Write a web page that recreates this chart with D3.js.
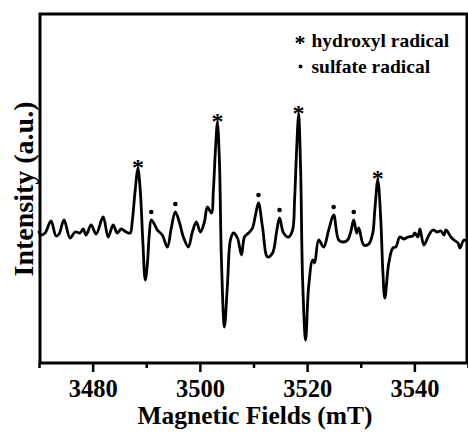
<!DOCTYPE html>
<html>
<head>
<meta charset="utf-8">
<script src="https://cdn.jsdelivr.net/npm/d3@7"></script>
<style>
  html, body { margin: 0; padding: 0; background: #fff; }
  svg { display: block; }
  text { font-family: "Liberation Serif", "Times New Roman", serif; font-weight: bold; fill: #000; }
</style>
</head>
<body>
<script>
// ---- data ----
const field = [3470.00,3470.37,3471.12,3472.24,3473.18,3473.74,3474.67,3475.79,3476.73,3477.66,
  3478.22,3478.79,3479.72,3480.65,3481.96,3482.90,3483.83,3484.58,3485.33,3486.26,
  3487.01,3487.38,3487.94,3488.45,3488.88,3489.35,3489.81,3490.19,3490.56,3490.93,
  3491.50,3492.06,3492.99,3493.93,3494.67,3495.42,3496.17,3496.92,3497.85,3498.60,
  3499.35,3500.09,3500.84,3501.40,3502.15,3502.52,3502.90,3503.27,3503.64,3504.02,
  3504.58,3505.14,3505.70,3506.26,3507.01,3507.76,3508.32,3509.07,3509.81,3510.37,
  3510.93,3511.68,3512.62,3513.55,3514.30,3514.86,3515.61,3516.54,3517.29,3517.66,
  3518.04,3518.41,3518.79,3519.16,3519.72,3520.28,3521.03,3521.40,3522.15,3523.08,
  3524.02,3524.95,3525.89,3526.82,3527.57,3528.13,3528.69,3529.25,3529.63,3530.56,
  3531.50,3532.24,3532.62,3533.18,3533.74,3534.11,3534.49,3535.23,3535.98,3536.54,
  3537.29,3538.04,3538.79,3539.72,3540.09,3540.65,3541.03,3541.78,3542.71,3543.46,
  3544.21,3544.95,3545.51,3545.89,3546.82,3547.38,3548.13,3548.50,3549.25,3550.00];
const intensity = [3,0,2,14,-1,1,15,-3,3,2,
  6,0,10,1,18,-2,10,2,6,3,
  2,13,45,66,45,-5,-45,-30,0,15,
  11,5,0,-12,7,23,13,-2,-12,3,
  13,3,13,28,22,45,85,112,75,-25,
  -92,-50,-5,2,-3,-20,-2,2,7,20,
  32,8,-22,-18,3,17,2,-2,5,35,
  85,120,65,-45,-105,-52,-25,-28,-5,-12,
  5,20,-5,-7,-5,3,15,2,7,-10,
  -9,2,25,55,15,-35,-63,-28,-13,-12,
  -2,-4,-2,-1,2,-2,6,-10,0,5,
  3,4,0,5,-2,-5,-8,-13,-5,-8];
const hydroxylPeaks = [3488.45, 3503.27, 3518.41, 3533.18];
const sulfatePeaks = [3490.93, 3495.42, 3510.93, 3514.86, 3524.95, 3528.69];
const xTicks = [3480, 3500, 3520, 3540];
const xMinorTicks = [3470, 3490, 3510, 3530, 3550];
const legendLabels = ["hydroxyl radical", "sulfate radical"];

// ---- chart ----
const W = 468, H = 433;
const FONT = '"Liberation Serif", "Times New Roman", serif';
const svg = d3.select("body").append("svg").attr("width", W).attr("height", H);
svg.append("rect").attr("width", W).attr("height", H).attr("fill", "#fff");

const x = d3.scaleLinear().domain([3470, 3550]).range([39, 468]);
const y = d3.scaleLinear().domain([-128, 221]).range([363, 14]);

const data = field.map((f, i) => ({ f, v: intensity[i] }));

svg.append("path")
  .datum(data)
  .attr("fill", "none")
  .attr("stroke", "#000")
  .attr("stroke-width", 2.8)
  .attr("stroke-linejoin", "round")
  .attr("stroke-linecap", "round")
  .attr("d", d3.line().x(d => x(d.f)).y(d => y(d.v)).curve(d3.curveCatmullRom.alpha(0.5)));

function peakValue(f) {
  let best = data[0];
  data.forEach(d => { if (Math.abs(d.f - f) < Math.abs(best.f - f)) best = d; });
  return best.v;
}

// markers
svg.selectAll(".ast").data(hydroxylPeaks).enter().append("text")
  .attr("class", "ast")
  .attr("x", d => x(d)).attr("y", d => y(peakValue(d)) + 6)
  .attr("text-anchor", "middle").style("font-size", "24px").text("*");
svg.selectAll(".dot").data(sulfatePeaks).enter().append("circle")
  .attr("class", "dot")
  .attr("cx", d => x(d)).attr("cy", d => y(peakValue(d)) - 8)
  .attr("r", 2.3).attr("fill", "#000");

// frame
svg.append("rect").attr("x", 40).attr("y", 14).attr("width", 427).attr("height", 349)
  .attr("fill", "none").attr("stroke", "#000").attr("stroke-width", 3);

// x axis
const xAxis = d3.axisBottom(x).tickValues(xTicks).tickSize(9).tickFormat(d3.format("d")).tickPadding(8);
const gx = svg.append("g").attr("transform", "translate(0,363)").call(xAxis);
gx.select(".domain").remove();
gx.selectAll(".tick line").attr("stroke", "#000").attr("stroke-width", 2.5);
gx.selectAll(".tick text")
  .style("font-family", FONT).style("font-weight", "bold").style("font-size", "24.5px")
  .style("fill", "#000").attr("dy", "0.71em");
const xMinor = d3.axisBottom(x).tickValues(xMinorTicks).tickSize(5).tickFormat("");
const gxm = svg.append("g").attr("transform", "translate(0,363)").call(xMinor);
gxm.select(".domain").remove();
gxm.selectAll(".tick line").attr("stroke", "#000").attr("stroke-width", 2.5);

// axis titles
svg.append("text").attr("x", 255).attr("y", 424).attr("text-anchor", "middle")
  .style("font-size", "25.5px").text("Magnetic Fields (mT)");
svg.append("text").attr("transform", "translate(33,189) rotate(-90)").attr("text-anchor", "middle")
  .style("font-size", "28px").text("Intensity (a.u.)");

// legend
svg.append("text").attr("x", 300).attr("y", 50).attr("text-anchor", "middle").style("font-size", "22px").text("*");
svg.append("text").attr("x", 311.5).attr("y", 46.5).style("font-size", "19.5px").text(legendLabels[0]);
svg.append("circle").attr("cx", 300.5).attr("cy", 66.5).attr("r", 2).attr("fill", "#000");
svg.append("text").attr("x", 311.5).attr("y", 73).style("font-size", "19.5px").text(legendLabels[1]);
</script>
</body>
</html>
